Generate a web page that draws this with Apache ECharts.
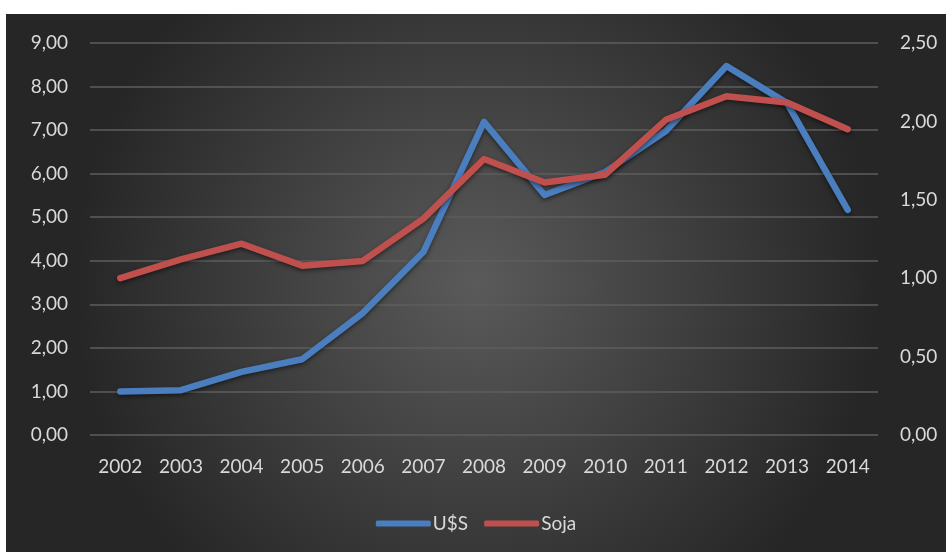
<!DOCTYPE html>
<html><head><meta charset="utf-8">
<script src="https://cdn.jsdelivr.net/npm/echarts@6/dist/echarts.min.js"></script>
<style>html,body{margin:0;padding:0;background:#fff;}#c{position:absolute;left:6px;top:14px;width:940px;height:538px;}</style>
</head><body><div id="c"></div>
<script>
const categories = ['2002','2003','2004','2005','2006','2007','2008','2009','2010','2011','2012','2013','2014'];
const usd = [1.00,1.03,1.45,1.74,2.80,4.20,7.19,5.51,6.04,6.98,8.47,7.62,5.17];
const soja = [1.00,1.12,1.22,1.08,1.11,1.38,1.76,1.61,1.66,2.01,2.16,2.12,1.95];
const seriesNames = ['U$S','Soja'];
const fmt = v => v.toFixed(2).replace('.', ',');
const chart = echarts.init(document.getElementById('c'));
const txt = {color:'#d9d9d9', fontFamily:'Lato, "Open Sans", sans-serif', fontSize:19};
chart.setOption({
  backgroundColor: {type:'radial', x:0.5, y:0.5, r:0.75, colorStops:[{offset:0,color:'#5a5a5a'},{offset:1,color:'#262626'}]},
  textStyle: txt,
  grid: {left:84, right:68, top:29, bottom:117},
  legend: {bottom:14, left:'center', itemWidth:55, itemHeight:6, itemGap:16, textStyle:Object.assign({padding:[0,0,0,-3]},txt), data:seriesNames,
    icon:'roundRect'},
  xAxis: {type:'category', data:categories, boundaryGap:true,
    axisLine:{show:false}, axisTick:{show:false},
    axisLabel:Object.assign({margin:22}, txt)},
  yAxis: [
    {type:'value', min:0, max:9, interval:1, position:'left',
     axisLabel:Object.assign({formatter:fmt, margin:22}, txt),
     axisLine:{show:false}, axisTick:{show:false},
     splitLine:{lineStyle:{color:'#5e5e5e', width:1.5}}},
    {type:'value', min:0, max:2.5, interval:0.5, position:'right',
     axisLabel:Object.assign({formatter:fmt, margin:22}, txt),
     axisLine:{show:false}, axisTick:{show:false}, splitLine:{show:false}}
  ],
  series: [
    {name:seriesNames[0], type:'line', data:usd, yAxisIndex:0, symbol:'none', color:'#4a7ebf',
     lineStyle:{width:6.5, cap:'round', join:'round', shadowColor:'rgba(0,0,0,0.5)', shadowBlur:4, shadowOffsetY:2}},
    {name:seriesNames[1], type:'line', data:soja, yAxisIndex:1, symbol:'none', color:'#c0504d',
     lineStyle:{width:6.5, cap:'round', join:'round', shadowColor:'rgba(0,0,0,0.5)', shadowBlur:4, shadowOffsetY:2}}
  ]
});
</script></body></html>
